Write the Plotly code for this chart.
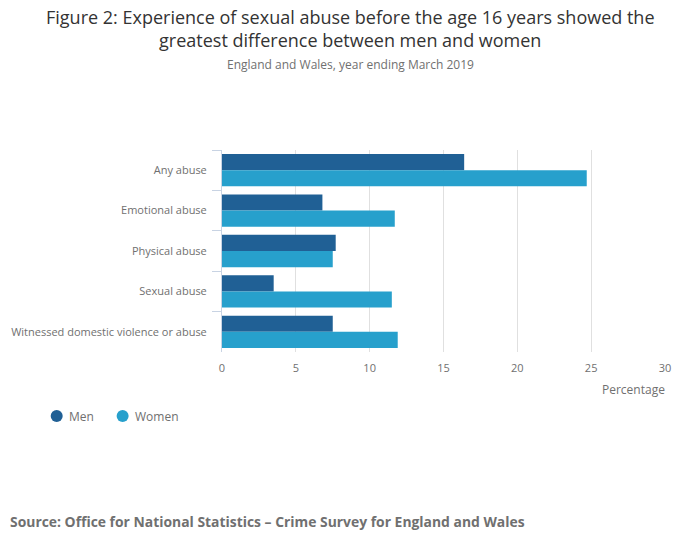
import plotly.graph_objects as go

categories = ["Any abuse", "Emotional abuse", "Physical abuse", "Sexual abuse",
              "Witnessed domestic violence or abuse"]
men = [16.4, 6.8, 7.7, 3.5, 7.5]
women = [24.7, 11.7, 7.5, 11.5, 11.9]
series_names = ["Men", "Women"]
colors = ["#206095", "#27a0cc"]
x_ticks = [0, 5, 10, 15, 20, 25, 30]

FONT = "Open Sans, Noto Sans, sans-serif"
PL, PW, PT, PH = 221.5, 443.5, 150, 202

def px(x):
    return (x - PL) / PW

def py(y):
    return 1 - (y - PT) / PH

fig = go.Figure()
for name, vals, col in zip(series_names, [men, women], colors):
    fig.add_trace(go.Bar(y=categories, x=vals, name=name, orientation="h",
                         marker=dict(color=col, line=dict(width=0)),
                         showlegend=False))

fig.update_layout(
    width=700, height=549,
    margin=dict(l=PL, r=700 - PL - PW, t=PT, b=549 - PT - PH, autoexpand=False),
    paper_bgcolor="white", plot_bgcolor="white",
    barmode="group", bargap=0.2, bargroupgap=0,
    font=dict(family=FONT, size=11, color="#707070"),
    xaxis=dict(range=[0, 30], tickvals=x_ticks, showgrid=True,
               gridcolor="#e0e0e0", gridwidth=1, zeroline=False,
               showline=False, ticks="", tickfont=dict(size=11, color="#707070"),
               ticklabelstandoff=8),
    yaxis=dict(autorange="reversed", showline=True, linecolor="#c8d3e3",
               linewidth=1, ticks="outside", tickson="boundaries",
               ticklen=9, tickcolor="#c8d3e3", showgrid=False,
               tickfont=dict(size=11, color="#707070"), ticklabelstandoff=12),
    showlegend=False,
)

# legend drawn as circles + labels
legend_items = [(56, 69), (122, 135)]
for (cx, tx), name, col in zip(legend_items, series_names, colors):
    fig.add_shape(type="circle", xref="paper", yref="paper",
                  xsizemode="pixel", ysizemode="pixel",
                  xanchor=px(cx), yanchor=py(416),
                  x0=-6, x1=6, y0=-6, y1=6,
                  fillcolor=col, line=dict(width=0))
    fig.add_annotation(text=name, xref="paper", yref="paper",
                       x=px(tx - 3), y=py(416), xanchor="left", yanchor="middle",
                       showarrow=False, font=dict(size=12, color="#707070", family=FONT))

fig.add_annotation(text="Figure 2: Experience of sexual abuse before the age 16 years showed the<br>greatest difference between men and women",
                   xref="paper", yref="paper", x=px(350), y=py(29),
                   xanchor="center", yanchor="middle", showarrow=False,
                   font=dict(size=18, color="#333333", family=FONT))
fig.add_annotation(text="England and Wales, year ending March 2019",
                   xref="paper", yref="paper", x=px(350), y=py(64),
                   xanchor="center", yanchor="middle", showarrow=False,
                   font=dict(size=12, color="#707070", family=FONT))
fig.add_annotation(text="Percentage", xref="paper", yref="paper",
                   x=px(667), y=py(389), xanchor="right", yanchor="middle",
                   showarrow=False, font=dict(size=12, color="#707070", family=FONT))
fig.add_annotation(text="<b>Source: Office for National Statistics – Crime Survey for England and Wales</b>",
                   xref="paper", yref="paper", x=px(7), y=py(521),
                   xanchor="left", yanchor="middle", showarrow=False,
                   font=dict(size=13.9, color="#707070", family=FONT))

fig.write_html("out.html")
